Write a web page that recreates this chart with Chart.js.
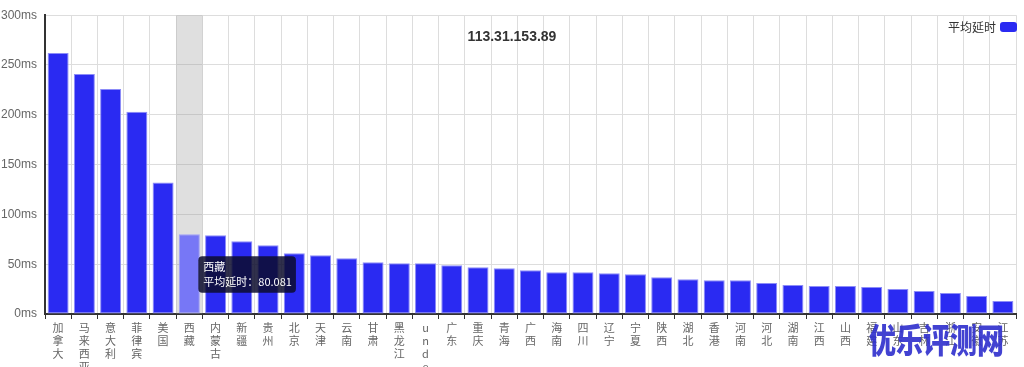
<!DOCTYPE html>
<html>
<head>
<meta charset="utf-8">
<script src="https://cdn.jsdelivr.net/npm/chart.js@4/dist/chart.umd.min.js"></script>
<style>
  body { margin: 0; background: #fff; }
  canvas { display: block; }
</style>
</head>
<body>
<canvas id="pingChart" width="1024" height="367"></canvas>
<script>
const regions = ['加拿大', '马来西亚', '意大利', '菲律宾', '美国', '西藏', '内蒙古', '新疆', '贵州', '北京',
    '天津', '云南', '甘肃', '黑龙江', 'undefined', '广东', '重庆', '青海', '广西', '海南',
    '四川', '辽宁', '宁夏', '陕西', '湖北', '香港', '河南', '河北', '湖南', '江西',
    '山西', '福建', '山东', '吉林', '浙江', '安徽', '江苏'];
const avgPing = [262, 241, 226, 203, 132, 80.081, 79, 73, 69, 61,
    59, 56, 52, 51, 51, 49, 47, 46, 44, 42,
    42, 41, 40, 37, 35, 34, 34, 31, 29, 28,
    28, 27, 25, 23, 21, 18, 13];
const yTicks = [0, 50, 100, 150, 200, 250, 300];
const titleText = '113.31.153.89';
const seriesName = '平均延时';
const hoverIndex = 5;
const barColor = '#2a2af2';

// ECharts style vertical labels: one character per line
const stackedLabels = regions.map(r => r.split(''));

Chart.Tooltip.positioners.cursor = function(items) {
    if (!items.length) return false;
    const el = items[0].element;
    return { x: el.x + 13, y: el.y + 22 };
};

const shadowPlugin = {
    id: 'shadow',
    beforeDatasetsDraw(chart) {
        const active = chart.getActiveElements();
        if (!active.length) return;
        const x = chart.scales.x;
        const area = chart.chartArea;
        const i = active[0].index;
        const w = x.getPixelForValue(1) - x.getPixelForValue(0);
        const cx = x.getPixelForValue(i);
        const ctx = chart.ctx;
        ctx.save();
        ctx.fillStyle = 'rgba(150,150,150,0.3)';
        ctx.fillRect(cx - w / 2, area.top, w, area.bottom - area.top);
        ctx.restore();
    }
};

const textPlugin = {
    id: 'extraText',
    afterDatasetsDraw(chart) {
        const ctx = chart.ctx;
        const area = chart.chartArea;
        ctx.save();
        ctx.font = 'bold 14px "Liberation Sans", Arial, sans-serif';
        ctx.fillStyle = '#333';
        ctx.textAlign = 'center';
        ctx.textBaseline = 'middle';
        ctx.fillText(titleText, chart.width / 2, 37);

        // legend: text then box, right aligned
        const boxR = area.right + 1;
        ctx.fillStyle = barColor;
        ctx.beginPath();
        ctx.roundRect(boxR - 17, 22, 17, 10, 3);
        ctx.fill();
        ctx.font = '12px "Noto Sans CJK SC", sans-serif';
        ctx.fillStyle = '#333';
        ctx.textAlign = 'right';
        ctx.fillText(chart.data.datasets[0].label, boxR - 21, 27);
        ctx.restore();
    },
    afterDraw(chart) {
        // watermark stamped over the bottom right corner
        const ctx = chart.ctx;
        ctx.save();
        ctx.translate(869, 340);
        ctx.scale(1, 1.25);
        ctx.font = '900 27px "Noto Sans CJK SC", sans-serif';
        ctx.fillStyle = 'rgba(50,50,205,0.92)';
        ctx.textAlign = 'left';
        ctx.textBaseline = 'middle';
        ctx.fillText('优乐评测网', 0, 0);
        ctx.restore();
    }
};

const chart = new Chart(document.getElementById('pingChart'), {
    type: 'bar',
    data: {
        labels: stackedLabels,
        datasets: [{
            label: seriesName,
            data: avgPing,
            backgroundColor: barColor,
            hoverBackgroundColor: '#7777f6',
            borderColor: '#8c8cf8',
            hoverBorderColor: '#a0a0fa',
            borderWidth: 1,
            borderSkipped: false,
            barPercentage: 0.8,
            categoryPercentage: 1
        }]
    },
    options: {
        responsive: false,
        animation: false,
        events: [],
        layout: {
            padding: { left: 0, right: 8, top: 13, bottom: 0 }
        },
        plugins: {
            legend: { display: false },
            tooltip: {
                enabled: true,
                position: 'cursor',
                xAlign: 'left',
                yAlign: 'top',
                caretSize: 0,
                caretPadding: 0,
                cornerRadius: 4,
                displayColors: false,
                backgroundColor: 'rgba(12,12,45,0.85)',
                titleColor: '#fff',
                bodyColor: '#fff',
                titleFont: { size: 11, weight: 'normal', family: '"Noto Sans CJK SC", sans-serif' },
                bodyFont: { size: 11, family: '"Noto Sans CJK SC", sans-serif' },
                titleMarginBottom: 2,
                padding: { left: 5, right: 4, top: 4, bottom: 4 },
                callbacks: {
                    title: items => regions[items[0].dataIndex],
                    label: item => seriesName + '：' + item.raw
                }
            }
        },
        scales: {
            x: {
                afterFit(scale) { scale.height = 53; },
                grid: {
                    offset: true,
                    color: '#dddddd',
                    tickColor: '#333',
                    tickLength: 5
                },
                border: { color: '#333', width: 2 },
                ticks: {
                    autoSkip: false,
                    maxRotation: 0,
                    minRotation: 0,
                    padding: 2,
                    color: '#666',
                    font: { size: 11, lineHeight: 1.2, family: '"Noto Sans CJK SC", sans-serif' }
                }
            },
            y: {
                min: 0,
                max: 300,
                afterFit(scale) { scale.width = 45; },
                afterBuildTicks(scale) { scale.ticks = yTicks.map(v => ({ value: v })); },
                grid: {
                    color: '#dddddd',
                    drawTicks: false
                },
                border: { color: '#333', width: 2 },
                ticks: {
                    padding: 8,
                    color: '#666',
                    font: { size: 12, family: '"Liberation Sans", Arial, sans-serif' },
                    callback: v => v + 'ms'
                }
            }
        }
    },
    plugins: [shadowPlugin, textPlugin]
});

const active = [{ datasetIndex: 0, index: hoverIndex }];
chart.setActiveElements(active);
chart.tooltip.setActiveElements(active, { x: 0, y: 0 });
chart.update();
</script>
</body>
</html>
